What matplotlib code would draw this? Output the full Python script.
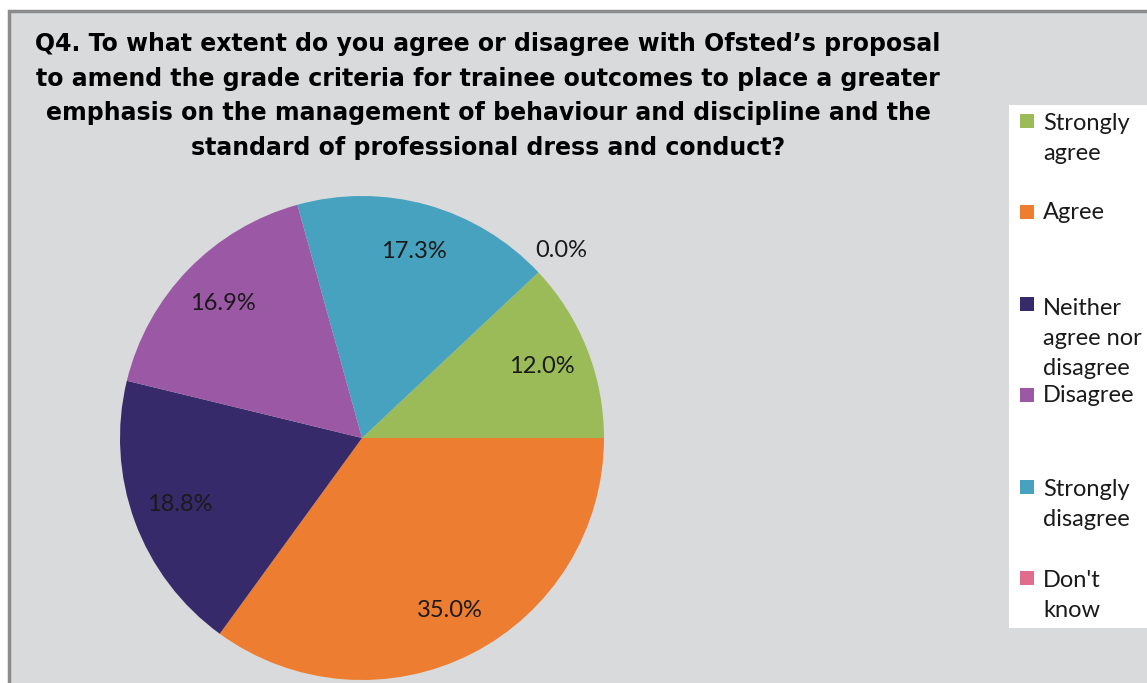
import matplotlib
matplotlib.use("Agg")
import matplotlib.pyplot as plt
from matplotlib.patches import Rectangle
import numpy as np

categories = ["Strongly agree", "Agree", "Neither agree nor disagree",
              "Disagree", "Strongly disagree", "Don't know"]
legend_labels = ["Strongly\nagree", "Agree", "Neither\nagree nor\ndisagree",
                 "Disagree", "Strongly\ndisagree", "Don't\nknow"]
values = [12.0, 35.0, 18.8, 16.9, 17.3, 0.0]
colors = ["#9bbb59", "#ed7d31", "#372a6b", "#9b59a5", "#46a2bf", "#e06c8e"]
title = ("Q4. To what extent do you agree or disagree with Ofsted\u2019s proposal\n"
         "to amend the grade criteria for trainee outcomes to place a greater\n"
         "emphasis on the management of behaviour and discipline and the\n"
         "standard of professional dress and conduct?")

W, H = 1147, 683
fig = plt.figure(figsize=(W / 100, H / 100), dpi=100)
fig.patch.set_facecolor("white")

def fx(px):
    return px / W

def fy(py):
    return 1 - py / H

# chart area
fig.patches.append(Rectangle((fx(9), fy(700)), fx(1160) - fx(9), fy(11) - fy(700),
                             transform=fig.transFigure, facecolor="#d9dadc",
                             edgecolor="#8c8c8c", linewidth=2.5, zorder=-5))

# pie axes
cx, cy, R = 362, 438, 242
ax = fig.add_axes([fx(cx - R), fy(cy + R), 2 * R / W, 2 * R / H])
ax.set_zorder(5)
ax.set_facecolor("none")
wedges, texts, autotexts = ax.pie(values, colors=colors, startangle=43.2,
                                  counterclock=False, radius=1.0,
                                  autopct="%.1f%%", pctdistance=0.8,
                                  wedgeprops=dict(linewidth=0),
                                  textprops=dict(fontsize=17, family="Lato",
                                                 color="#1a1a1a"))
for w, t, v in zip(wedges, autotexts, values):
    if v == 0:
        ang = np.deg2rad((w.theta1 + w.theta2) / 2)
        t.set_position((1.13 * np.cos(ang), 1.13 * np.sin(ang)))
ax.set_xlim(-1, 1)
ax.set_ylim(-1, 1)
ax.set_aspect("equal")
ax.axis("off")

# title (va='baseline' aligns the last line)
fig.text(fx(488), fy(155), title, ha="center", va="baseline", fontsize=17,
         fontweight="bold", family="DejaVu Sans", linespacing=1.56, color="black")

# legend box
fig.patches.append(Rectangle((fx(1009), fy(628)), fx(1160) - fx(1009), fy(105) - fy(628),
                             transform=fig.transFigure, facecolor="white",
                             edgecolor="none", zorder=1))
y0, step, lh = 128, 91.4, 32
for i, (lab, c) in enumerate(zip(legend_labels, colors)):
    yb = y0 + i * step
    nlines = lab.count("\n")
    fig.patches.append(Rectangle((fx(1020), fy(yb)), 14 / W, 14 / H,
                                 transform=fig.transFigure, facecolor=c,
                                 edgecolor="none", zorder=2))
    fig.text(fx(1043), fy(yb + nlines * lh), lab, ha="left", va="baseline",
             fontsize=17, family="Lato", linespacing=1.52, color="#1a1a1a",
             zorder=3, transform=fig.transFigure)

fig.savefig("out.png", dpi=100)
